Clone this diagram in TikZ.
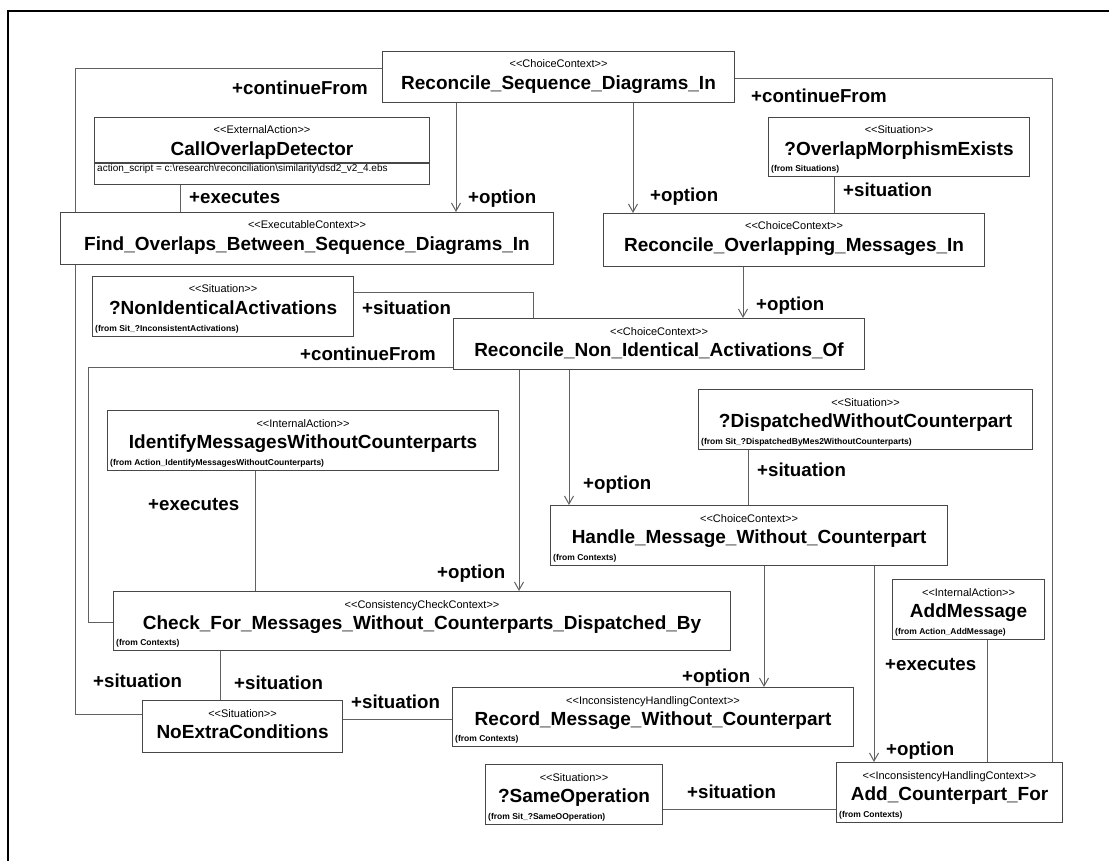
\documentclass[tikz,border=0pt]{standalone}
\usepackage{fontspec}
\setmainfont{Liberation Sans}
\usepackage{tikz}
\usetikzlibrary{arrows.meta,backgrounds,calc}
\tikzstyle{umlbox} = [rectangle, draw=black!72, line width=1.1pt, fill=white, anchor=north west, inner sep=0pt]
\tikzstyle{umlstereo} = [font=\fontsize{11}{13}\selectfont, inner sep=0pt, anchor=base]
\tikzstyle{umlname} = [font=\fontsize{19}{22}\selectfont\bfseries, inner sep=0pt, anchor=base]
\tikzstyle{umlfrom} = [font=\fontsize{8.5}{10}\selectfont\bfseries, inner sep=0pt, anchor=base west]
\tikzstyle{umlattr} = [font=\fontsize{10}{12}\selectfont, inner sep=0pt, anchor=base west]
\tikzstyle{rolelabel} = [font=\fontsize{18.7}{22}\selectfont\bfseries, inner sep=0pt, anchor=base west]
\tikzstyle{assoc} = [draw=black!62, line width=1pt]
\tikzstyle{navassoc} = [assoc, -{Straight Barb[length=8pt,width=9pt]}]
\newcommand{\stype}[1]{<\kern0pt<#1>\kern0pt>}
\newcommand{\umlclass}[7]{\node[umlbox, minimum width=#4pt, minimum height=#5pt,
    label={[umlstereo, yshift=-17pt]north:{#6}},
    label={[umlname, yshift=-38.5pt]north:{#7}}] (#1) at (#2,#3) {};}
\newcommand{\umlfrom}[2]{\node[umlfrom] (#1-from) at ([xshift=3pt,yshift=6pt]#1.south west) {#2};}

\begin{document}
\begin{tikzpicture}[x=1pt, y=-1pt]
        \useasboundingbox (0,0) rectangle (1109,861);
        \draw[line width=2.5pt] (8,861) -- (8,11) -- (1109,11);
        % classes
        \umlclass{rsd}{382}{51}{352}{51}{\stype{ChoiceContext}}{Reconcile\_Sequence\_Diagrams\_In}
        \umlclass{cod}{94}{117}{335}{67}{\stype{ExternalAction}}{CallOverlapDetector}
        \umlclass{fob}{60}{212}{493}{52}{\stype{ExecutableContext}}{Find\_Overlaps\_Between\_Sequence\_Diagrams\_In}
        \umlclass{ome}{768}{117}{261}{59}{\stype{Situation}}{?OverlapMorphismExists}
        \umlclass{rom}{603}{213}{381}{53}{\stype{ChoiceContext}}{Reconcile\_Overlapping\_Messages\_In}
        \umlclass{nia}{92}{276}{261}{60}{\stype{Situation}}{?NonIdenticalActivations}
        \umlclass{rni}{453}{318}{411}{51}{\stype{ChoiceContext}}{Reconcile\_Non\_Identical\_Activations\_Of}
        \umlclass{imw}{107}{410}{391}{60}{\stype{InternalAction}}{IdentifyMessagesWithoutCounterparts}
        \umlclass{dwc}{698}{389}{334}{60}{\stype{Situation}}{?DispatchedWithoutCounterpart}
        \umlclass{hmw}{550}{505}{397}{60}{\stype{ChoiceContext}}{Handle\_Message\_Without\_Counterpart}
        \umlclass{cfm}{113}{591}{617}{59}{\stype{ConsistencyCheckContext}}{Check\_For\_Messages\_Without\_Counterparts\_Dispatched\_By}
        \umlclass{am}{892}{579}{152}{60}{\stype{InternalAction}}{AddMessage}
        \umlclass{nec}{142}{700}{200}{52}{\stype{Situation}}{NoExtraConditions}
        \umlclass{rmw}{452}{687}{401}{59}{\stype{InconsistencyHandlingContext}}{Record\_Message\_Without\_Counterpart}
        \umlclass{so}{485}{764}{177}{60}{\stype{Situation}}{?SameOperation}
        \umlclass{acf}{836}{762}{226}{60}{\stype{InconsistencyHandlingContext}}{Add\_Counterpart\_For}
        \umlfrom{ome}{(from Situations)}
        \umlfrom{nia}{(from Sit\_?InconsistentActivations)}
        \umlfrom{imw}{(from Action\_IdentifyMessagesWithoutCounterparts)}
        \umlfrom{dwc}{(from Sit\_?DispatchedByMes2WithoutCounterparts)}
        \umlfrom{hmw}{(from Contexts)}
        \umlfrom{cfm}{(from Contexts)}
        \umlfrom{am}{(from Action\_AddMessage)}
        \umlfrom{rmw}{(from Contexts)}
        \umlfrom{so}{(from Sit\_?SameOOperation)}
        \umlfrom{acf}{(from Contexts)}
        \draw[umlbox] (cod.west |- 0,163) -- (cod.east |- 0,163);
        \node[umlattr, xshift=3pt] (cod-attr) at (cod.west |- 0,172) {action\_script = c:\textbackslash research\textbackslash reconciliation\textbackslash similarity\textbackslash dsd2\_v2\_4.ebs};
        % associations
        \begin{scope}[on background layer]
        \draw[assoc] (rsd.west |- 0,69) -- ++(-307,0) |- (nec.west |- 0,714);
        \draw[assoc] (rsd.east |- 0,79) -| (acf.north -| 1052,0);
        \draw[navassoc] (rsd.south -| 456,0) -- (fob.north -| 456,0);
        \draw[navassoc] (rsd.south -| 633,0) -- (rom.north -| 633,0);
        \draw[assoc] (cod.south -| 180,0) -- (fob.north -| 180,0);
        \draw[assoc] (ome.south -| 834,0) -- (rom.north -| 834,0);
        \draw[navassoc] (rom.south -| 743,0) -- (rni.north -| 743,0);
        \draw[assoc] (nia.east |- 0,293) -| (rni.north -| 533,0);
        \draw[assoc] (rni.west |- 0,367) -- ++(-365,0) |- (cfm.west |- 0,622);
        \draw[navassoc] (rni.south -| 519,0) -- (cfm.north -| 519,0);
        \draw[navassoc] (rni.south -| 569,0) -- (hmw.north -| 569,0);
        \draw[assoc] (dwc.south -| 748,0) -- (hmw.north -| 748,0);
        \draw[assoc] (imw.south -| 255,0) -- (cfm.north -| 255,0);
        \draw[assoc] (cfm.south -| 220,0) -- (nec.north -| 220,0);
        \draw[assoc] (nec.east |- 0,719) -- (rmw.west |- 0,719);
        \draw[navassoc] (hmw.south -| 764,0) -- (rmw.north -| 764,0);
        \draw[navassoc] (hmw.south -| 874,0) -- (acf.north -| 874,0);
        \draw[assoc] (am.south -| 987,0) -- (acf.north -| 987,0);
        \draw[assoc] (so.east |- 0,809) -- (acf.west |- 0,809);
        \end{scope}
        % role names
        \node[rolelabel] (cf-rsd-nec) at (232,95) {+continueFrom};
        \node[rolelabel] (cf-rsd-acf) at (751,103) {+continueFrom};
        \node[rolelabel] (op-rsd-fob) at (468,204) {+option};
        \node[rolelabel] (op-rsd-rom) at (650,202) {+option};
        \node[rolelabel] (ex-cod) at (189,204) {+executes};
        \node[rolelabel] (si-ome) at (843,197) {+situation};
        \node[rolelabel] (op-rom-rni) at (756,311) {+option};
        \node[rolelabel] (si-nia) at (362,315) {+situation};
        \node[rolelabel] (cf-rni-cfm) at (300,360) {+continueFrom};
        \node[rolelabel] (op-rni-hmw) at (583,489) {+option};
        \node[rolelabel] (si-dwc) at (757,476) {+situation};
        \node[rolelabel] (ex-imw) at (148,510) {+executes};
        \node[rolelabel] (op-rni-cfm) at (437,578) {+option};
        \node[rolelabel] (si-rsd-nec) at (93,687) {+situation};
        \node[rolelabel] (si-cfm-nec) at (234,689) {+situation};
        \node[rolelabel] (si-rmw-nec) at (351,708) {+situation};
        \node[rolelabel] (op-hmw-rmw) at (682,682) {+option};
        \node[rolelabel] (ex-am) at (885,670) {+executes};
        \node[rolelabel] (op-hmw-acf) at (886,755) {+option};
        \node[rolelabel] (si-so) at (687,798) {+situation};
        \end{tikzpicture}
\end{document}
